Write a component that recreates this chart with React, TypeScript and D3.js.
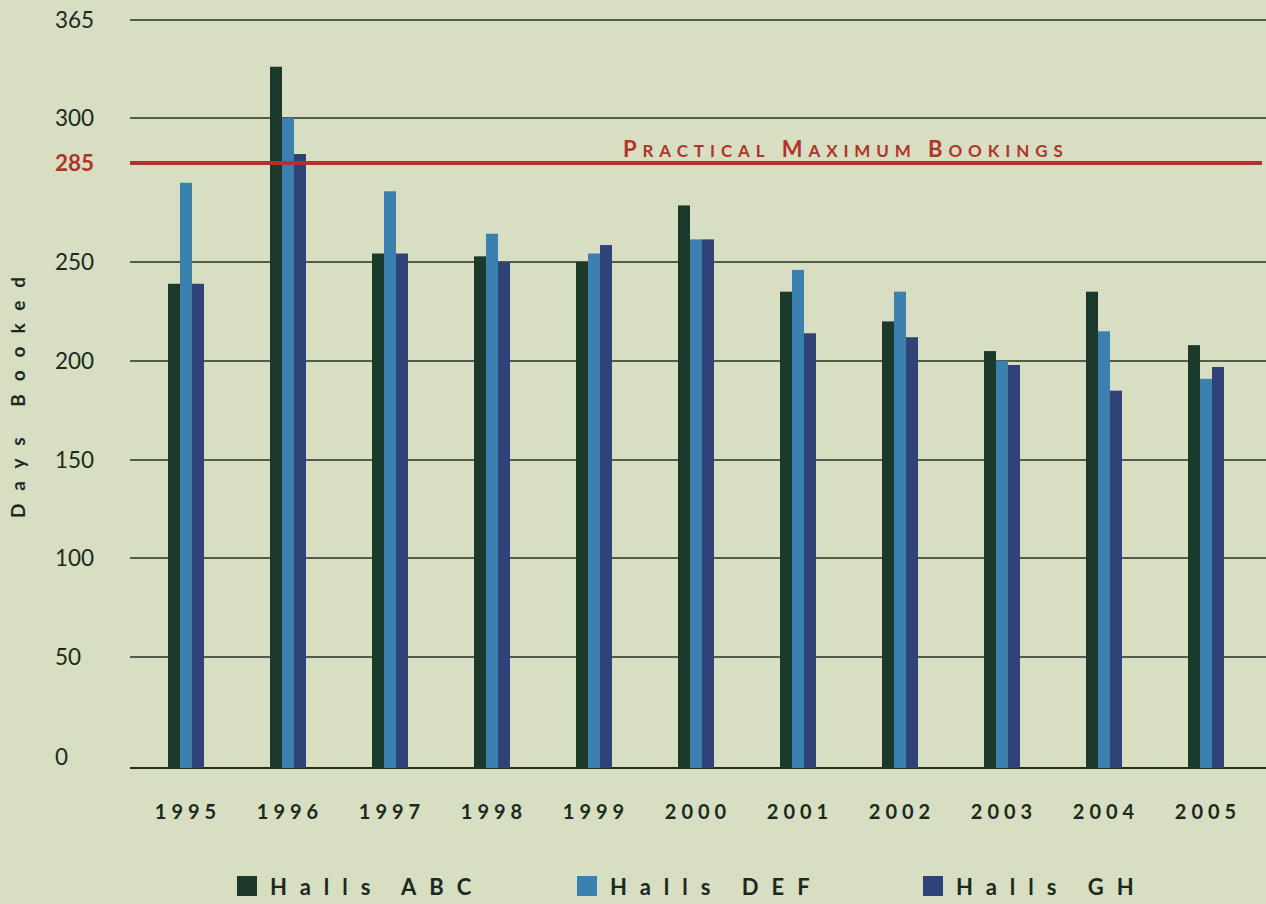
import React, { useRef, useEffect } from 'react';
import * as d3 from 'd3';

const years = ['1995', '1996', '1997', '1998', '1999', '2000', '2001', '2002', '2003', '2004', '2005'];
const seriesNames = ['Halls ABC', 'Halls DEF', 'Halls GH'];
const hallsABC = [239, 334, 253, 252, 250, 270, 235, 220, 205, 235, 208];
const hallsDEF = [278, 300, 275, 260, 253, 258, 246, 235, 200, 215, 191];
const hallsGH = [239, 288, 253, 250, 256, 258, 214, 212, 198, 185, 197];
const yTicks = [0, 50, 100, 150, 200, 250, 300, 365];
// the printed axis is not linear, so keep the breakpoints of the original
const yBreaks = [0, 50, 100, 150, 200, 250, 285, 300, 365];
const practicalMax = 285;
const maxLabel = ['Practical', 'Maximum', 'Bookings'];

const colors = ['#1b3a2b', '#3b80ae', '#2f4379'];
const bg = '#d7dec2';
const red = '#b0342b';
const font = 'Lato, "Open Sans", sans-serif';

const App: React.FC = () => {
  const svgRef = useRef<SVGSVGElement>(null);

  useEffect(() => {
    if (!svgRef.current) return;
    const width = 1266;
    const height = 904;
    const svg = d3.select(svgRef.current);
    svg.selectAll('*').remove();

    svg.append('rect').attr('width', width).attr('height', height).attr('fill', bg);

    const y = d3.scaleLinear()
      .domain(yBreaks)
      .range([768, 657, 558, 460, 361, 262, 163, 118, 20]);

    const x = d3.scaleBand().domain(years).range([135, 1257]).padding(0);
    const xi = d3.scaleBand().domain(seriesNames).range([0, 36]);

    const gridLeft = 130;
    const gridRight = width;

    // gridlines
    svg.append('g')
      .selectAll('line')
      .data(yTicks)
      .join('line')
      .attr('x1', gridLeft)
      .attr('x2', gridRight)
      .attr('y1', d => y(d))
      .attr('y2', d => y(d))
      .attr('stroke', '#243226')
      .attr('stroke-width', d => (d === 0 ? 2 : 1.5));

    // tick labels
    svg.append('g')
      .style('font-family', font)
      .style('font-size', '22.5px')
      .attr('fill', '#1c2a1e')
      .selectAll('text')
      .data(yTicks)
      .join('text')
      .attr('x', 55)
      .attr('y', d => (d === 0 ? y(d) - 11 : y(d)))
      .attr('dy', '0.35em')
      .text(d => d);

    svg.append('text')
      .attr('x', 55)
      .attr('y', y(practicalMax))
      .attr('dy', '0.35em')
      .style('font-family', font)
      .style('font-size', '22.5px')
      .style('font-weight', 700)
      .attr('fill', red)
      .text(practicalMax);

    // bars
    const all = [hallsABC, hallsDEF, hallsGH];
    const rows = years.flatMap((yr, i) => seriesNames.map((s, j) => ({ yr, s, v: all[j][i], j })));
    svg.append('g')
      .selectAll('rect')
      .data(rows)
      .join('rect')
      .attr('x', d => x(d.yr)! + x.bandwidth() / 2 - 18 + xi(d.s)!)
      .attr('width', xi.bandwidth())
      .attr('y', d => y(d.v))
      .attr('height', d => y(0) - y(d.v))
      .attr('fill', d => colors[d.j]);

    // practical maximum line
    svg.append('line')
      .attr('x1', gridLeft)
      .attr('x2', 1262)
      .attr('y1', y(practicalMax))
      .attr('y2', y(practicalMax))
      .attr('stroke', red)
      .attr('stroke-width', 4);

    // small caps label built from tspans
    const title = svg.append('text')
      .attr('x', 623)
      .attr('y', y(practicalMax) - 6)
      .style('font-family', font)
      .style('font-weight', 700)
      .style('letter-spacing', '5.9px')
      .attr('fill', red);
    maxLabel.forEach((w, i) => {
      title.append('tspan').style('font-size', '22px').text((i > 0 ? ' ' : '') + w[0]);
      title.append('tspan').style('font-size', '17px').text(w.slice(1).toUpperCase());
    });

    // year labels
    svg.append('g')
      .style('font-family', font)
      .style('font-size', '20px')
      .style('font-weight', 700)
      .style('letter-spacing', '5px')
      .attr('fill', '#1c2a1e')
      .attr('text-anchor', 'middle')
      .selectAll('text')
      .data(years)
      .join('text')
      .attr('x', d => x(d)! + x.bandwidth() / 2 + 2)
      .attr('y', 819)
      .text(d => d);

    // axis title
    svg.append('text')
      .attr('transform', 'translate(25,391) rotate(-90)')
      .attr('text-anchor', 'middle')
      .style('font-family', font)
      .style('font-size', '19px')
      .style('font-weight', 700)
      .style('letter-spacing', '13px')
      .attr('fill', '#1c2a1e')
      .text('Days Booked');

    // legend
    const legendX = [237, 577, 923];
    const lg = svg.append('g')
      .selectAll('g')
      .data(seriesNames)
      .join('g')
      .attr('transform', (d, i) => `translate(${legendX[i]},876)`);
    lg.append('rect').attr('width', 20).attr('height', 20).attr('fill', (d, i) => colors[i]);
    lg.append('text')
      .attr('x', 33)
      .attr('y', 19)
      .style('font-family', font)
      .style('font-size', '22px')
      .style('font-weight', 700)
      .style('letter-spacing', '13px')
      .attr('fill', '#1c2a1e')
      .text(d => d);
  }, []);

  return (
    <svg
      ref={svgRef}
      width={1266}
      height={904}
      style={{ position: 'absolute', left: 0, top: 0, display: 'block' }}
    ></svg>
  );
};

export default App;
